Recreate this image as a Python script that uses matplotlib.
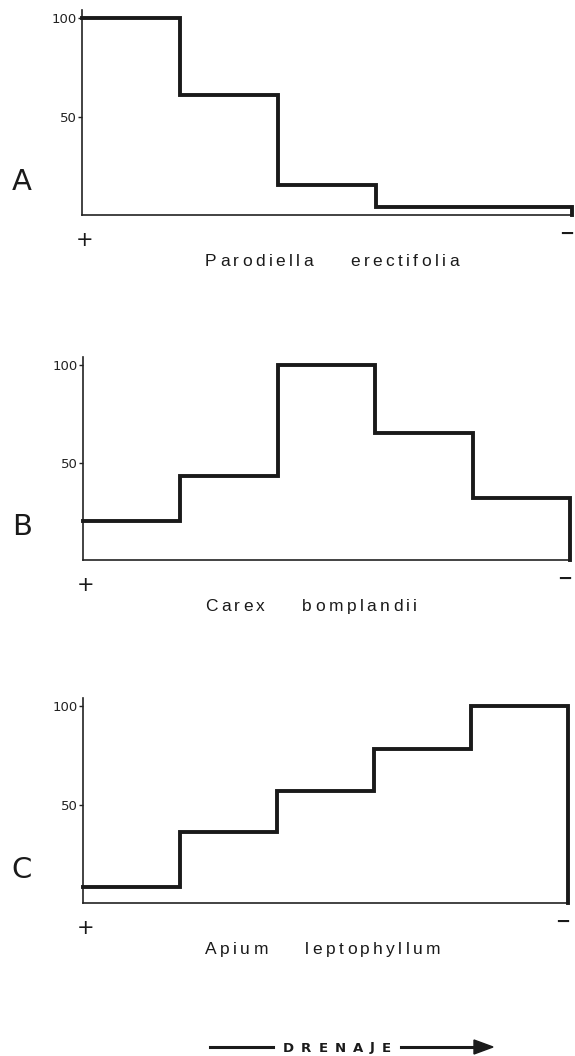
import numpy as np
import matplotlib.pyplot as plt
from matplotlib.font_manager import FontProperties

# relative abundance (%) along the drainage gradient, five classes
classes = [1, 2, 3, 4, 5]
parodiella = [100, 61, 15, 4, 4]
carex = [20, 43, 100, 65, 32]
apium = [8, 36, 57, 78, 100]

species = ["Parodiella erectifolia", "Carex bomplandii", "Apium leptophyllum"]
panel_letters = ["A", "B", "C"]
yticks = [50, 100]

W, H = 575, 1056
fig = plt.figure(figsize=(W / 100, H / 100), dpi=100)
fig.patch.set_facecolor("white")
renderer = fig.canvas.get_renderer()
INK = "#1a1a1a"


def fx(px):
    return px / W


def fy(py):
    return 1 - py / H


def spaced_text(x, y, s, prop, track, word_gap, ha="left"):
    """Write s letter by letter with extra tracking (all in pixels)."""
    widths = []
    for ch in s:
        if ch == " ":
            widths.append(word_gap)
        else:
            w, _, _ = renderer.get_text_width_height_descent(ch, prop, False)
            widths.append(w + track)
    total = sum(widths) - track
    if ha == "center":
        x -= total / 2
    for ch, w in zip(s, widths):
        if ch != " ":
            fig.text(fx(x), fy(y), ch, fontproperties=prop, ha="left",
                     va="baseline", color=INK)
        x += w


name_font = FontProperties(family="Liberation Sans", size=12.5)

# (left, right, y of 0, y of 100) in pixels
frames = [(82, 572, 215, 18), (83, 570, 560, 365), (83, 568, 903, 706)]
ymax = 104

for vals, name, letter, (x0, x1, yb, yt) in zip(
        [parodiella, carex, apium], species, panel_letters, frames):
    per = (yb - yt) / 100
    ax = fig.add_axes([fx(x0), fy(yb), (x1 - x0) / W, per * ymax / H])
    edges = np.arange(len(classes) + 1)
    xs = np.concatenate([np.repeat(edges, 2)[1:-1], [edges[-1]]])
    ys = np.concatenate([np.repeat(vals, 2), [0]])
    ax.plot(xs, ys, color=INK, lw=2.8, solid_joinstyle="miter",
            clip_on=False, zorder=3)
    ax.set_xlim(0, len(classes))
    ax.set_ylim(0, ymax)
    for s in ["top", "right"]:
        ax.spines[s].set_visible(False)
    for s in ["left", "bottom"]:
        ax.spines[s].set_linewidth(1.2)
        ax.spines[s].set_color("#222222")
    ax.set_xticks([])
    ax.set_yticks(yticks)
    ax.set_yticklabels([str(t) for t in yticks])
    ax.tick_params(axis="y", direction="out", length=3, width=1,
                   labelsize=9.5, pad=1, colors="#222222")

    fig.text(fx(22), fy(yb - 33), letter, fontsize=21, ha="center",
             va="center", color=INK)
    fig.text(fx(x0 + 3), fy(yb + 25), "+", fontsize=15, ha="center",
             va="center", color=INK)
    fig.text(fx(x1 - 5), fy(yb + 19), "\u2212", fontsize=13,
             fontweight="bold", ha="center", va="center", color=INK)
    spaced_text(205, yb + 51, name, name_font, track=3.4, word_gap=34)

# drainage arrow at the bottom
ya = fy(1047)
fig.add_artist(plt.Line2D([fx(210), fx(273)], [ya, ya], color=INK, lw=2.2))
spaced_text(337, 1051.5, "DRENAJE",
            FontProperties(family="DejaVu Sans", size=9.5, weight="bold"),
            track=7, word_gap=0, ha="center")
fig.add_artist(plt.Line2D([fx(401), fx(478)], [ya, ya], color=INK, lw=2.2))
fig.patches.append(plt.Polygon([[fx(474), ya + 7 / H], [fx(493), ya],
                                [fx(474), ya - 7 / H]], closed=True,
                               transform=fig.transFigure, color=INK))

fig.savefig("out.png", dpi=100, facecolor="white")
